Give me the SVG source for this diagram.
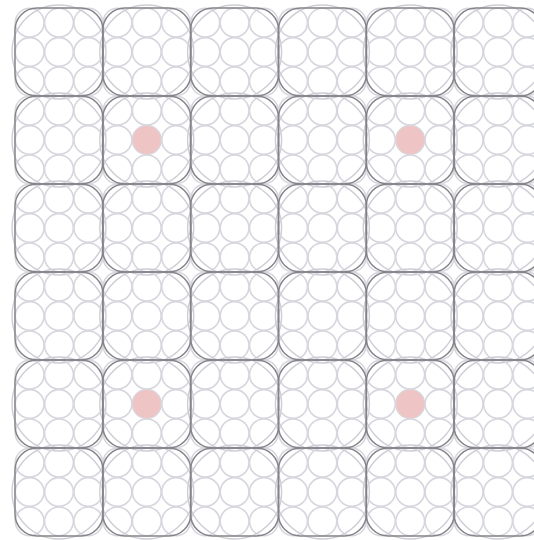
<svg xmlns="http://www.w3.org/2000/svg" xmlns:xlink="http://www.w3.org/1999/xlink" width="534" height="540" viewBox="0 0 534 540">
<style>
.s{fill:none;stroke:#d6d6de;stroke-width:1.6}
.b{fill:none;stroke:#cdcdd6;stroke-width:1.4}
.d{fill:none;stroke:#848488;stroke-width:1.5}
.dot{fill:#efc4c4}
</style>
<defs>
<g id="cell">
<circle class="s" cx="-29.33" cy="-29.33" r="14.4"/>
<circle class="s" cx="0" cy="-29.33" r="14.4"/>
<circle class="s" cx="29.33" cy="-29.33" r="14.4"/>
<circle class="s" cx="-29.33" cy="0" r="14.4"/>
<circle class="s" cx="0" cy="0" r="14.4"/>
<circle class="s" cx="29.33" cy="0" r="14.4"/>
<circle class="s" cx="-29.33" cy="29.33" r="14.4"/>
<circle class="s" cx="0" cy="29.33" r="14.4"/>
<circle class="s" cx="29.33" cy="29.33" r="14.4"/>
<circle class="b" cx="0" cy="0" r="47"/>
</g>
<rect id="edge" class="d" x="-44" y="-44" width="88" height="88" rx="22" ry="22"/>
</defs>
<rect width="534" height="540" fill="#ffffff"/>
<g id="grid">
<g id="row0">
<use xlink:href="#cell" transform="translate(59,52)"/>
<use xlink:href="#cell" transform="translate(146.8,52)"/>
<use xlink:href="#cell" transform="translate(234.6,52)"/>
<use xlink:href="#cell" transform="translate(322.4,52)"/>
<use xlink:href="#cell" transform="translate(410.2,52)"/>
<use xlink:href="#cell" transform="translate(498,52)"/>
</g>
<g id="row1">
<use xlink:href="#cell" transform="translate(59,140)"/>
<use xlink:href="#cell" transform="translate(146.8,140)"/>
<use xlink:href="#cell" transform="translate(234.6,140)"/>
<use xlink:href="#cell" transform="translate(322.4,140)"/>
<use xlink:href="#cell" transform="translate(410.2,140)"/>
<use xlink:href="#cell" transform="translate(498,140)"/>
</g>
<g id="row2">
<use xlink:href="#cell" transform="translate(59,228)"/>
<use xlink:href="#cell" transform="translate(146.8,228)"/>
<use xlink:href="#cell" transform="translate(234.6,228)"/>
<use xlink:href="#cell" transform="translate(322.4,228)"/>
<use xlink:href="#cell" transform="translate(410.2,228)"/>
<use xlink:href="#cell" transform="translate(498,228)"/>
</g>
<g id="row3">
<use xlink:href="#cell" transform="translate(59,316)"/>
<use xlink:href="#cell" transform="translate(146.8,316)"/>
<use xlink:href="#cell" transform="translate(234.6,316)"/>
<use xlink:href="#cell" transform="translate(322.4,316)"/>
<use xlink:href="#cell" transform="translate(410.2,316)"/>
<use xlink:href="#cell" transform="translate(498,316)"/>
</g>
<g id="row4">
<use xlink:href="#cell" transform="translate(59,404)"/>
<use xlink:href="#cell" transform="translate(146.8,404)"/>
<use xlink:href="#cell" transform="translate(234.6,404)"/>
<use xlink:href="#cell" transform="translate(322.4,404)"/>
<use xlink:href="#cell" transform="translate(410.2,404)"/>
<use xlink:href="#cell" transform="translate(498,404)"/>
</g>
<g id="row5">
<use xlink:href="#cell" transform="translate(59,492)"/>
<use xlink:href="#cell" transform="translate(146.8,492)"/>
<use xlink:href="#cell" transform="translate(234.6,492)"/>
<use xlink:href="#cell" transform="translate(322.4,492)"/>
<use xlink:href="#cell" transform="translate(410.2,492)"/>
<use xlink:href="#cell" transform="translate(498,492)"/>
</g>
</g>
<g id="outlines">
<use xlink:href="#edge" transform="translate(59,52)"/>
<use xlink:href="#edge" transform="translate(146.8,52)"/>
<use xlink:href="#edge" transform="translate(234.6,52)"/>
<use xlink:href="#edge" transform="translate(322.4,52)"/>
<use xlink:href="#edge" transform="translate(410.2,52)"/>
<use xlink:href="#edge" transform="translate(498,52)"/>
<use xlink:href="#edge" transform="translate(59,140)"/>
<use xlink:href="#edge" transform="translate(146.8,140)"/>
<use xlink:href="#edge" transform="translate(234.6,140)"/>
<use xlink:href="#edge" transform="translate(322.4,140)"/>
<use xlink:href="#edge" transform="translate(410.2,140)"/>
<use xlink:href="#edge" transform="translate(498,140)"/>
<use xlink:href="#edge" transform="translate(59,228)"/>
<use xlink:href="#edge" transform="translate(146.8,228)"/>
<use xlink:href="#edge" transform="translate(234.6,228)"/>
<use xlink:href="#edge" transform="translate(322.4,228)"/>
<use xlink:href="#edge" transform="translate(410.2,228)"/>
<use xlink:href="#edge" transform="translate(498,228)"/>
<use xlink:href="#edge" transform="translate(59,316)"/>
<use xlink:href="#edge" transform="translate(146.8,316)"/>
<use xlink:href="#edge" transform="translate(234.6,316)"/>
<use xlink:href="#edge" transform="translate(322.4,316)"/>
<use xlink:href="#edge" transform="translate(410.2,316)"/>
<use xlink:href="#edge" transform="translate(498,316)"/>
<use xlink:href="#edge" transform="translate(59,404)"/>
<use xlink:href="#edge" transform="translate(146.8,404)"/>
<use xlink:href="#edge" transform="translate(234.6,404)"/>
<use xlink:href="#edge" transform="translate(322.4,404)"/>
<use xlink:href="#edge" transform="translate(410.2,404)"/>
<use xlink:href="#edge" transform="translate(498,404)"/>
<use xlink:href="#edge" transform="translate(59,492)"/>
<use xlink:href="#edge" transform="translate(146.8,492)"/>
<use xlink:href="#edge" transform="translate(234.6,492)"/>
<use xlink:href="#edge" transform="translate(322.4,492)"/>
<use xlink:href="#edge" transform="translate(410.2,492)"/>
<use xlink:href="#edge" transform="translate(498,492)"/>
</g>
<g id="dots">
<circle class="dot" cx="146.8" cy="140" r="14"/>
<circle class="dot" cx="410.2" cy="140" r="14"/>
<circle class="dot" cx="146.8" cy="404" r="14"/>
<circle class="dot" cx="410.2" cy="404" r="14"/>
</g>
</svg>
